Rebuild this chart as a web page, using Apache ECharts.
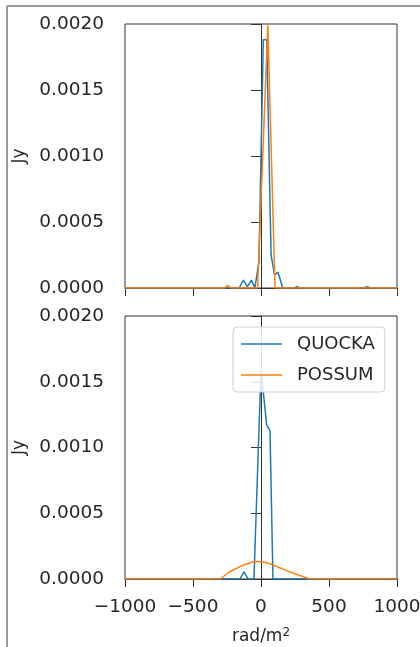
<!DOCTYPE html>
<html>
<head>
<meta charset="utf-8">
<script src="https://cdn.jsdelivr.net/npm/echarts@6/dist/echarts.min.js"></script>
<style>
  html, body { margin: 0; padding: 0; background: #fff; }
  #main { width: 420px; height: 647px; }
</style>
</head>
<body>
<div id="main"></div>
<script>
// Faraday depth (rad/m^2) and amplitude (Jy)
const topQuockaPhi = [-1000, -160, -130, -100, -70, -45, -15, 17, 42, 74, 100, 125, 160, 240, 265, 290, 750, 780, 810, 1000]
const topQuockaAmp = [0, 0, 0.00006, 0.00001, 0.00006, 0, 0.0002, 0.00188, 0.00188, 0.00025, 0.0001, 0.00012, 0, 0, 0.00001, 0, 0, 0.00001, 0, 0]
const topPossumPhi = [-1000, -270, -245, -220, -25, 50, 103, 1000]
const topPossumAmp = [0, 0, 0.00002, 0, 0, 0.00199, 0, 0]

const botQuockaPhi = [-1000, -155, -125, -95, -52, 0, 42, 66, 88, 1000]
const botQuockaAmp = [0, 0, 0.000055, 0, 0, 0.00159, 0.00117, 0.00113, 0, 0]
const botPossumPhi = [-1000, -300, -230, -130, -44, 40, 116, 238, 360, 1000]
const botPossumAmp = [0, 0, 0.000055, 0.000106, 0.000135, 0.000125, 0.000094, 0.000044, 0, 0]

const xTicks = [-1000, -500, 0, 500, 1000]
const yTicks = [0, 0.0005, 0.001, 0.0015, 0.002]
const seriesNames = ['QUOCKA', 'POSSUM']

const blue = '#1f77b4'
const orange = '#ff7f0e'
const font = 'DejaVu Sans'
const textColor = '#262626'

const pairs = (xs, ys) => xs.map((x, i) => [x, ys[i]])

const chart = echarts.init(document.getElementById('main'))

function xAxis(gridIndex, withLabels) {
  return {
    type: 'value', gridIndex,
    min: xTicks[0], max: xTicks[xTicks.length - 1], interval: 500,
    splitLine: { show: false },
    axisLine: { show: true, onZero: false, lineStyle: { color: '#333', width: 1 } },
    axisTick: { show: true, length: 8, lineStyle: { color: '#333' } },
    axisLabel: {
      show: withLabels, margin: 19, fontFamily: font, fontSize: 18.5, color: textColor,
      formatter: v => (v < 0 ? '\u2212' + Math.abs(v) : String(v))
    },
    name: withLabels ? '{a|rad/m}{s|2}' : '',
    nameLocation: 'middle', nameGap: 48,
    nameTextStyle: {
      rich: {
        a: { fontFamily: font, fontSize: 17, color: textColor },
        s: { fontFamily: font, fontSize: 12, color: textColor, verticalAlign: 'top', padding: [0, 0, 8, 0] }
      }
    }
  }
}

function yAxis(gridIndex) {
  return {
    type: 'value', gridIndex,
    min: 0, max: yTicks[yTicks.length - 1], interval: 0.0005,
    splitLine: { show: false },
    axisLine: { show: true, lineStyle: { color: '#333', width: 1 } },
    axisTick: { show: true, length: 10, lineStyle: { color: '#333' } },
    axisLabel: {
      margin: 21, fontFamily: font, fontSize: 18.5, color: textColor,
      formatter: v => v.toFixed(4)
    },
    name: 'Jy', nameLocation: 'middle', nameGap: 97, nameRotate: 90,
    nameTextStyle: { fontFamily: font, fontSize: 17, color: textColor }
  }
}

function line(name, xi, data, color) {
  return {
    name, type: 'line', xAxisIndex: xi, yAxisIndex: xi,
    data, symbol: 'none', animation: false,
    lineStyle: { color, width: 1.5 }, itemStyle: { color }
  }
}

const gridBase = {
  left: 125, right: 23, show: true, borderColor: '#333', borderWidth: 1,
  backgroundColor: 'transparent', containLabel: false, outerBoundsMode: 'none'
}

chart.setOption({
  animation: false,
  textStyle: { fontFamily: font },
  grid: [
    Object.assign({ top: 24, height: 264 }, gridBase),
    Object.assign({ top: 316, height: 263 }, gridBase)
  ],
  xAxis: [xAxis(0, false), xAxis(1, true)],
  yAxis: [yAxis(0), yAxis(1)],
  legend: {
    data: seriesNames, orient: 'vertical', left: 233, top: 327,
    icon: 'rect', itemWidth: 41, itemHeight: 1.5, itemGap: 13,
    padding: [8, 10, 8, 8],
    borderColor: '#d0d0d0', borderWidth: 1, borderRadius: 4,
    backgroundColor: 'rgba(255,255,255,0.85)',
    textStyle: { fontFamily: font, fontSize: 18, color: textColor, lineHeight: 18, padding: [0, 0, 0, 10] }
  },
  graphic: [
    { type: 'line', shape: { x1: 7, y1: 6, x2: 420, y2: 6 }, style: { stroke: '#999', lineWidth: 2 } },
    { type: 'line', shape: { x1: 7, y1: 6, x2: 7, y2: 647 }, style: { stroke: '#999', lineWidth: 2 } }
  ],
  series: [
    line(seriesNames[0], 0, pairs(topQuockaPhi, topQuockaAmp), blue),
    line(seriesNames[1], 0, pairs(topPossumPhi, topPossumAmp), orange),
    line(seriesNames[0], 1, pairs(botQuockaPhi, botQuockaAmp), blue),
    line(seriesNames[1], 1, pairs(botPossumPhi, botPossumAmp), orange)
  ]
})
</script>
</body>
</html>
